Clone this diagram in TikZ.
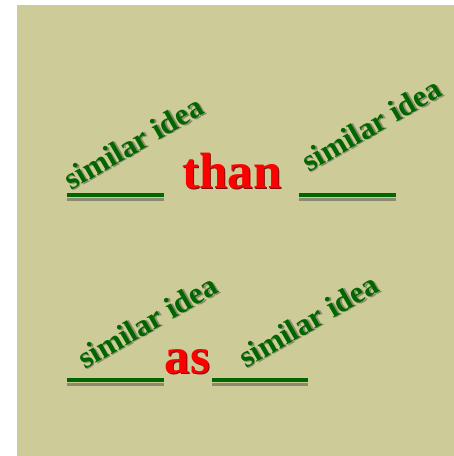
\documentclass[tikz,border=0pt]{standalone}
\usepackage{fontspec}
\setmainfont{Liberation Serif}
\definecolor{bgkhaki}{HTML}{CDCB98}
\definecolor{idgreen}{HTML}{006600}
\definecolor{kwred}{HTML}{FF0000}
\definecolor{shgray}{HTML}{8C8A6E}
\definecolor{kwshade}{HTML}{7A1010}
\newcommand{\shadowtext}[2]{\makebox[0pt][l]{\raisebox{-1.2pt}{\hspace{1.2pt}\textcolor{#1}{#2}}}#2}
\tikzset{
  idea/.style={font=\bfseries\fontsize{31}{33}\selectfont, text=idgreen, rotate=30, anchor=base west, inner sep=0pt},
  kw/.style={font=\bfseries\fontsize{51}{53}\selectfont, text=kwred, anchor=base west, inner sep=0pt},
  blank/.style={draw=idgreen, line width=4pt},
  blankshadow/.style={draw=shgray, line width=2.5pt},
}
\begin{document}
\begin{tikzpicture}[x=1pt,y=-1pt]
\useasboundingbox (0,0) rectangle (454,456);
\fill[bgkhaki] (17,5) rectangle (454,456);
% blanks
\coordinate (b1a) at (67,195); \coordinate (b1b) at (164,195);
\coordinate (b2a) at (299,195); \coordinate (b2b) at (396,195);
\coordinate (b3a) at (67,380); \coordinate (b3b) at (164,380);
\coordinate (b4a) at (212,380); \coordinate (b4b) at (308,380);
\coordinate (s1a) at (67,199.5); \coordinate (s1b) at (164,199.5);
\coordinate (s2a) at (299,199.5); \coordinate (s2b) at (396,199.5);
\coordinate (s3a) at (67,384.5); \coordinate (s3b) at (164,384.5);
\coordinate (s4a) at (212,384.5); \coordinate (s4b) at (308,384.5);
\draw[blankshadow] (s1a) -- (s1b);
\draw[blankshadow] (s2a) -- (s2b);
\draw[blankshadow] (s3a) -- (s3b);
\draw[blankshadow] (s4a) -- (s4b);
\draw[blank] (b1a) -- (b1b);
\draw[blank] (b2a) -- (b2b);
\draw[blank] (b3a) -- (b3b);
\draw[blank] (b4a) -- (b4b);
% keywords
\node[kw] (than) at (182,188.5) {\shadowtext{kwshade}{than}};
\node[kw] (as) at (164.5,373) {\shadowtext{kwshade}{as}};
% similar idea labels
\node[idea] (i1) at (71,191) {\shadowtext{shgray}{similar idea}};
\node[idea] (i2) at (309,173) {\shadowtext{shgray}{similar idea}};
\node[idea] (i3) at (85,370) {\shadowtext{shgray}{similar idea}};
\node[idea] (i4) at (246,369) {\shadowtext{shgray}{similar idea}};
\end{tikzpicture}
\end{document}
